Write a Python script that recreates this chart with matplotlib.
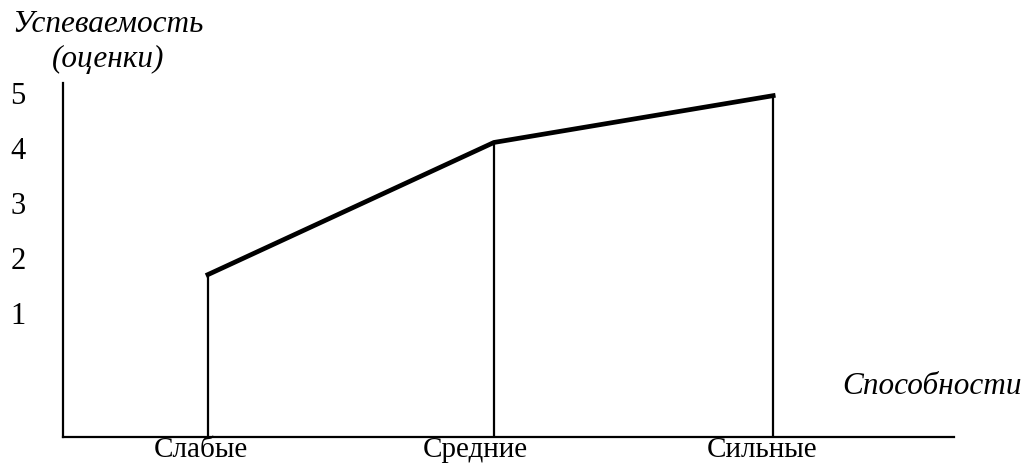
import matplotlib
matplotlib.use("Agg")
import matplotlib.pyplot as plt
from matplotlib.transforms import ScaledTranslation

plt.rcParams['font.family'] = ['Liberation Serif', 'DejaVu Serif']

categories = ['Слабые', 'Средние', 'Сильные']
cat_pos = [0, 1.012, 2]
grades = [1.7, 4.1, 4.95]
y_ticks = [1, 2, 3, 4, 5]

fig = plt.figure(figsize=(10.27, 4.66), dpi=100)
W, H = 1027, 466
ax = fig.add_axes([63 / W, (H - 437) / H, (954 - 63) / W, (437 - 83) / H])

# vertical drop lines from each point to the axis
for x, y in zip(cat_pos, grades):
    ax.plot([x, x], [-1.25, y], color='black', lw=1.6, solid_capstyle='butt')

ax.plot(cat_pos, grades, color='black', lw=3.4, solid_joinstyle='miter')

ax.set_xlim(-0.513, 2.64)
ax.set_ylim(-1.25, 5.18)

for side in ['top', 'right']:
    ax.spines[side].set_visible(False)
for side in ['left', 'bottom']:
    ax.spines[side].set_linewidth(1.6)

ax.set_xticks(cat_pos)
ax.set_xticklabels(categories, fontsize=21)
ax.set_yticks(y_ticks)
ax.set_yticklabels([str(v) for v in y_ticks], fontsize=22)
ax.tick_params(axis='x', length=0, pad=0)
ax.tick_params(axis='y', length=0, pad=27)

# labels in the original sit a little left of their lines
shifts = [-7, -19, -11]
for lab, dx in zip(ax.get_xticklabels(), shifts):
    lab.set_transform(lab.get_transform() + ScaledTranslation(dx / 100, 0, fig.dpi_scale_trans))

fig.text(12 / W, 1 - 24 / H, 'Успеваемость', fontsize=22.5, style='italic',
         ha='left', va='center')
fig.text(52 / W, 1 - 59 / H, '(оценки)', fontsize=22.5, style='italic',
         ha='left', va='center')
fig.text(1022 / W, 1 - 386 / H, 'Способности', fontsize=22.5, style='italic',
         ha='right', va='center')

fig.savefig('out.png', dpi=100)
